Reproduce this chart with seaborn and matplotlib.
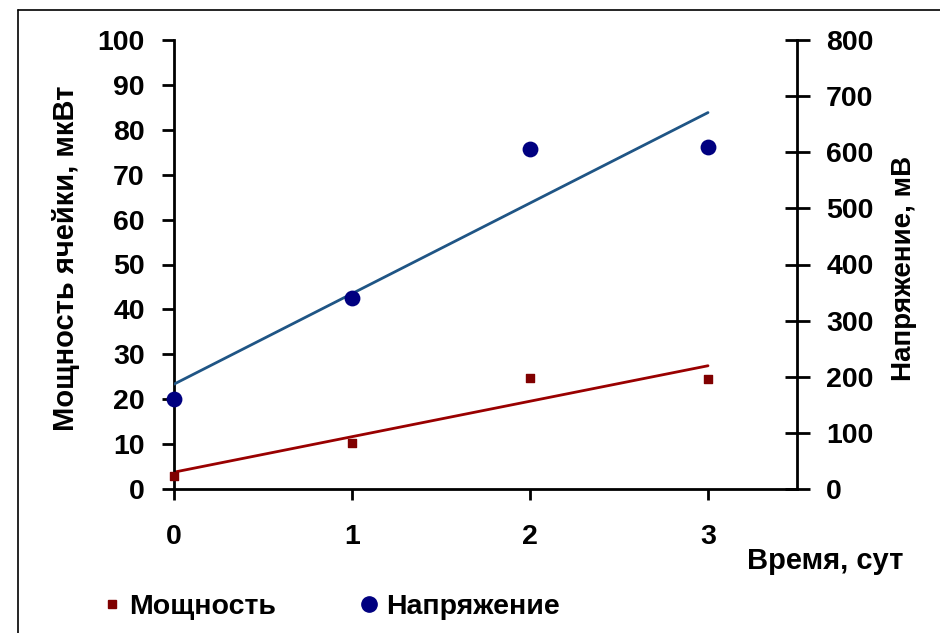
import numpy as np
import pandas as pd
import matplotlib
matplotlib.use("Agg")
import matplotlib.pyplot as plt
from matplotlib.lines import Line2D
import seaborn as sns

days = [0, 1, 2, 3]
power = [3.0, 10.2, 24.7, 24.5]          # мкВт
voltage = [160, 340, 606, 609]           # мВ
left_ticks = [0, 10, 20, 30, 40, 50, 60, 70, 80, 90, 100]
right_ticks = [0, 100, 200, 300, 400, 500, 600, 700, 800]
x_ticks = [0, 1, 2, 3]

sns.set_style("white")
plt.rcParams['font.family'] = ['Liberation Sans', 'DejaVu Sans']
plt.rcParams['font.weight'] = 'bold'
plt.rcParams['text.color'] = 'black'

FS = 20.5

df = pd.DataFrame({"day": days, "power": power, "voltage": voltage})

fig = plt.figure(figsize=(9.4, 6.33), dpi=100)
ax = fig.add_axes([174/940, 1-489/633, (797-174)/940, (489-40)/633])
ax2 = ax.twinx()

red = "#800000"
red_line = "#990000"
navy = "#000080"
blue_line = "#1F5585"

sns.regplot(data=df, x="day", y="power", ax=ax, ci=None, truncate=True,
            marker="s", scatter_kws=dict(s=40, color=red, alpha=1, zorder=3, clip_on=False),
            line_kws=dict(color=red_line, lw=2))
sns.regplot(data=df, x="day", y="voltage", ax=ax2, ci=None, truncate=True,
            marker="o", scatter_kws=dict(s=130, color=navy, alpha=1, zorder=3, clip_on=False, linewidths=0),
            line_kws=dict(color=blue_line, lw=2))

ax.set_xlim(0, 3.5)
ax.set_ylim(0, 100)
ax2.set_ylim(0, 800)
ax.set_xticks(x_ticks)
ax.set_yticks(left_ticks)
ax2.set_yticks(right_ticks)
ax.set_xlabel("")
ax.set_ylabel("")
ax2.set_ylabel("")

for a in (ax, ax2):
    for s in a.spines.values():
        s.set_visible(False)
ax.spines['left'].set_visible(True)
ax.spines['bottom'].set_visible(True)
ax2.spines['right'].set_visible(True)
for s in (ax.spines['left'], ax.spines['bottom'], ax2.spines['right']):
    s.set_color("black")
    s.set_linewidth(2)

ax.tick_params(axis='y', which='major', direction='out', length=9, width=2,
               left=True, right=False, labelsize=FS, pad=12, colors='black')
ax.tick_params(axis='x', which='major', direction='out', length=8, width=2,
               bottom=True, labelsize=FS, pad=17, colors='black')
ax2.tick_params(axis='y', which='major', direction='inout', length=18, width=2,
                right=True, left=False, labelsize=FS, pad=12, colors='black')
for lab in ax.get_xticklabels() + ax.get_yticklabels() + ax2.get_yticklabels():
    lab.set_fontweight('bold')

fig.text(66/940, 1-258/633, "Мощность ячейки, мкВт", rotation=90, ha='center', va='center',
         fontsize=21, fontweight='bold')
fig.text(904/940, 1-268/633, "Напряжение, мВ", rotation=90, ha='center', va='center',
         fontsize=20, fontweight='bold')
fig.text(825/940, 1-561/633, "Время, сут", ha='center', va='center',
         fontsize=21, fontweight='bold')

handles = [Line2D([], [], ls='none', marker='s', color=red, markersize=6),
           Line2D([], [], ls='none', marker='o', color=navy, markersize=11)]
fig.legend(handles, ["Мощность", "Напряжение"], loc='center left',
           bbox_to_anchor=(78/940, 1-607/633), ncol=2, frameon=False,
           prop=dict(size=FS, weight='bold'), handlelength=0.6, handletextpad=0.3,
           columnspacing=2.95)

# outer frame (top and left edges visible)
fig.add_artist(Line2D([18/940, 1.0], [1-10/633, 1-10/633], color='black', lw=1.2,
                      transform=fig.transFigure))
fig.add_artist(Line2D([18/940, 18/940], [0, 1-10/633], color='black', lw=1.2,
                      transform=fig.transFigure))

fig.savefig("out.png", dpi=100)
